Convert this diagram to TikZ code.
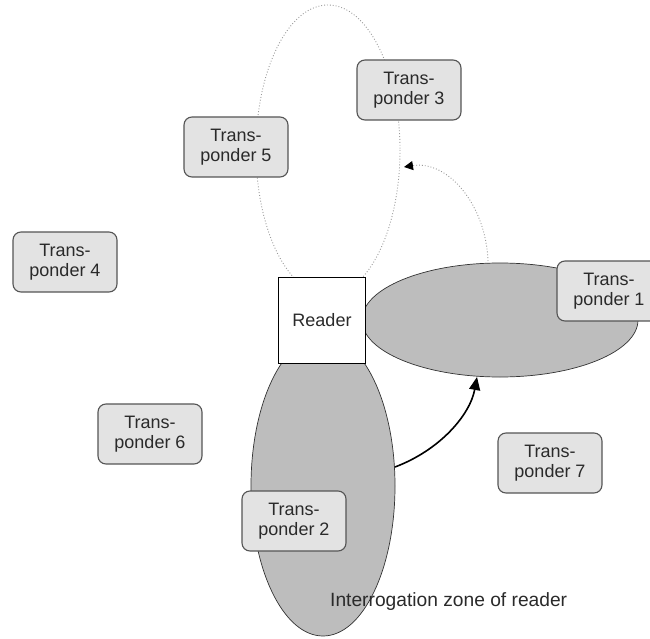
\documentclass[tikz,border=0pt]{standalone}
\usepackage{fontspec}
\setmainfont{Liberation Sans}
\usetikzlibrary{arrows.meta}
\definecolor{tpfill}{HTML}{E3E3E3}
\definecolor{tpdraw}{HTML}{555555}
\definecolor{zone}{HTML}{BDBDBD}
\definecolor{txt}{HTML}{2A2A2A}
\begin{document}
\begin{tikzpicture}[x=1pt,y=-1pt,
  tp/.style={draw=tpdraw, line width=1.1pt, fill=tpfill, rounded corners=8pt,
    minimum width=104pt, minimum height=60pt, align=center, inner sep=0pt,
    font=\fontsize{18}{19.5}\selectfont, text=txt},
  zonestyle/.style={draw=black!80, line width=0.7pt, fill=zone},
  readerbox/.style={draw=black, line width=1pt, fill=white, minimum width=87pt,
    minimum height=86pt, inner sep=0pt, font=\fontsize{18}{19.5}\selectfont, text=txt},
  dotline/.style={draw=gray!80, line width=0.9pt, dotted}
]
\useasboundingbox (0,0) rectangle (650,639);
% dotted interrogation zone (top)
\draw[dotline] (328,150) ellipse [x radius=72, y radius=145];
% gray zones
\path[zonestyle] (500,320) ellipse [x radius=138, y radius=57];
\path[zonestyle] (323,486) ellipse [x radius=72, y radius=150];
% reader
\node[readerbox] (reader) at (322,320) {Reader};
% transponders
\node[tp] (t1) at (609,291) {Trans-\\ponder 1};
\node[tp] (t2) at (294,521) {Trans-\\ponder 2};
\node[tp] (t3) at (409,90) {Trans-\\ponder 3};
\node[tp] (t4) at (65,262) {Trans-\\ponder 4};
\node[tp] (t5) at (236,147) {Trans-\\ponder 5};
\node[tp] (t6) at (150,434) {Trans-\\ponder 6};
\node[tp] (t7) at (550,463) {Trans-\\ponder 7};
% connectors
\coordinate (a1) at (488,261);
\coordinate (a2) at (404,167);
\draw[dotline, -{Triangle[length=9pt,width=9pt,color=black]}] (a1) .. controls (486,205) and (448,160) .. (a2);
\coordinate (b1) at (395,467);
\coordinate (b2) at (477,377);
\draw[black, line width=1.6pt, -{Triangle[length=13pt,width=11pt]}] (b1) .. controls (440,450) and (470,415) .. (b2);
% caption
\node[font=\fontsize{19.2}{22}\selectfont, text=txt, anchor=base west, inner sep=0pt] (cap) at (330,606) {Interrogation zone of reader};
\end{tikzpicture}
\end{document}
